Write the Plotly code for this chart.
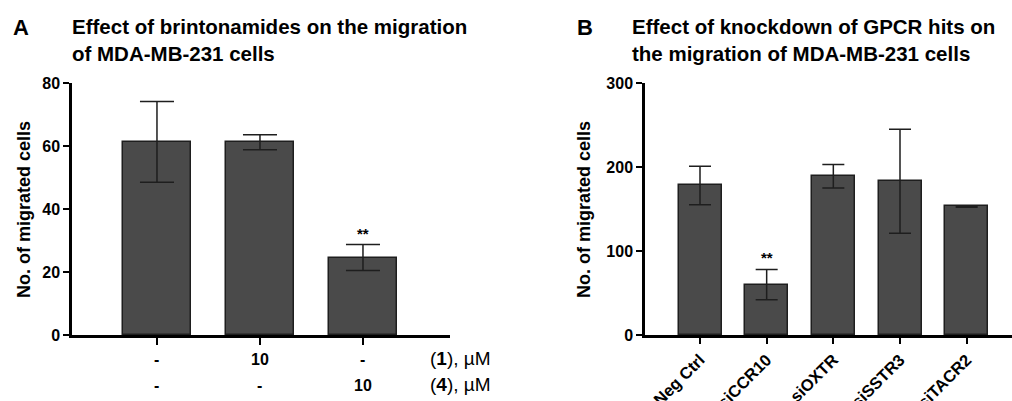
import plotly.graph_objects as go

# Panel A data
a_cats = [0, 1, 2]
a_vals = [61.3, 61.2, 24.6]
a_err = [12.8, 2.4, 4.1]
a_row1 = ["-", "10", "-"]
a_row2 = ["-", "-", "10"]
a_sig = ["", "", "**"]

# Panel B data
b_cats = ["Neg Ctrl", "siCCR10", "siOXTR", "siSSTR3", "siTACR2"]
b_vals = [178, 60, 189, 183, 153]
b_err = [23, 18, 14, 62, 1]
b_sig = ["", "**", "", "", ""]

W, H = 1012, 401
FONT = "Liberation Sans, Arial, sans-serif"
BAR = "#4a4a4a"
EDGE = "#1e1e1e"

def px(x):
    return x / W

def py(y):
    return 1 - y / H

fig = go.Figure()
fig.add_trace(go.Bar(
    x=a_cats, y=a_vals, width=0.66, marker=dict(color=BAR, line=dict(color=EDGE, width=1.5)),
    error_y=dict(type="data", array=a_err, color=EDGE, thickness=1.5, width=17),
    xaxis="x", yaxis="y", showlegend=False, hoverinfo="skip"))
fig.add_trace(go.Bar(
    x=list(range(len(b_cats))), y=b_vals, width=0.645, marker=dict(color=BAR, line=dict(color=EDGE, width=1.5)),
    error_y=dict(type="data", array=b_err, color=EDGE, thickness=1.5, width=11),
    xaxis="x2", yaxis="y2", showlegend=False, hoverinfo="skip"))

ydom = [py(335), py(83)]
axis_common = dict(showline=True, linecolor="black", linewidth=2.5, showgrid=False, zeroline=False,
                   ticks="outside", tickcolor="black", tickwidth=2, automargin=False,
                   tickfont=dict(family=FONT, size=16, color="black"))

fig.update_layout(
    width=W, height=H, margin=dict(l=0, r=0, t=0, b=0, autoexpand=False),
    plot_bgcolor="white", paper_bgcolor="white", bargap=0,
    xaxis=dict(domain=[px(72), px(450)], range=[-0.825, 2.845], tickvals=a_cats,
               showticklabels=False, ticklen=7, anchor="y", **axis_common),
    yaxis=dict(domain=ydom, range=[0, 80], tickvals=[0, 20, 40, 60, 80],
               ticktext=["<b>%d</b>" % v for v in [0, 20, 40, 60, 80]], ticklen=6, anchor="x",
               **axis_common),
    xaxis2=dict(domain=[px(645), 1.0], range=[-0.825, 4.68], tickvals=list(range(len(b_cats))),
                ticktext=["<b>%s</b>" % c for c in b_cats], tickangle=-45, ticklen=6, anchor="y2",
                **{**axis_common, "tickfont": dict(family=FONT, size=16.5, color="black")}),
    yaxis2=dict(domain=ydom, range=[0, 300], tickvals=[0, 100, 200, 300],
                ticktext=["<b>%d</b>" % v for v in [0, 100, 200, 300]], ticklen=6, anchor="x2",
                **axis_common),
)

ann = []
# Titles
ann.append(dict(text="<b>A</b>", x=px(11), y=py(27), xref="paper", yref="paper", xanchor="left",
                yanchor="middle", showarrow=False, font=dict(family=FONT, size=22, color="black")))
ann.append(dict(text="<b>Effect of brintonamides on the migration<br>of MDA-MB-231 cells</b>",
                x=px(70), y=py(40), xref="paper", yref="paper", xanchor="left", yanchor="middle",
                align="left", showarrow=False, font=dict(family=FONT, size=20.5, color="black")))
ann.append(dict(text="<b>B</b>", x=px(575), y=py(27), xref="paper", yref="paper", xanchor="left",
                yanchor="middle", showarrow=False, font=dict(family=FONT, size=22, color="black")))
ann.append(dict(text="<b>Effect of knockdown of GPCR hits on<br>the migration of MDA-MB-231 cells</b>",
                x=px(630), y=py(40), xref="paper", yref="paper", xanchor="left", yanchor="middle",
                align="left", showarrow=False, font=dict(family=FONT, size=20.5, color="black")))
# Y titles
ann.append(dict(text="<b>No. of migrated cells</b>", x=px(24), y=py(210), xref="paper", yref="paper",
                xanchor="center", yanchor="middle", textangle=-90, showarrow=False,
                font=dict(family=FONT, size=18, color="black")))
ann.append(dict(text="<b>No. of migrated cells</b>", x=px(584), y=py(210), xref="paper", yref="paper",
                xanchor="center", yanchor="middle", textangle=-90, showarrow=False,
                font=dict(family=FONT, size=18, color="black")))
# Panel A row labels
for c, r1, r2 in zip(a_cats, a_row1, a_row2):
    ann.append(dict(text="<b>%s</b>" % r1, x=c, y=py(359), xref="x", yref="paper", showarrow=False,
                    xanchor="center", yanchor="middle", font=dict(family=FONT, size=16, color="black")))
    ann.append(dict(text="<b>%s</b>" % r2, x=c, y=py(385), xref="x", yref="paper", showarrow=False,
                    xanchor="center", yanchor="middle", font=dict(family=FONT, size=16, color="black")))
ann.append(dict(text="(<b>1</b>), µM", x=px(428), y=py(358), xref="paper", yref="paper", xanchor="left",
                yanchor="middle", showarrow=False, font=dict(family=FONT, size=19, color="black")))
ann.append(dict(text="(<b>4</b>), µM", x=px(428), y=py(384), xref="paper", yref="paper", xanchor="left",
                yanchor="middle", showarrow=False, font=dict(family=FONT, size=19, color="black")))
# Significance stars
for c, v, e, s in zip(a_cats, a_vals, a_err, a_sig):
    if s:
        ann.append(dict(text="<b>%s</b>" % s, x=c, y=v + e, xref="x", yref="y", xanchor="center",
                        yanchor="bottom", yshift=1, showarrow=False,
                        font=dict(family=FONT, size=15, color="black")))
for i, (v, e, s) in enumerate(zip(b_vals, b_err, b_sig)):
    if s:
        ann.append(dict(text="<b>%s</b>" % s, x=i, y=v + e, xref="x2", yref="y2", xanchor="center",
                        yanchor="bottom", yshift=1, showarrow=False,
                        font=dict(family=FONT, size=15, color="black")))

fig.update_layout(annotations=ann)
fig.write_html("out.html", config={"displayModeBar": False},
               post_script="document.body.style.margin='0';document.body.style.overflow='hidden';")
